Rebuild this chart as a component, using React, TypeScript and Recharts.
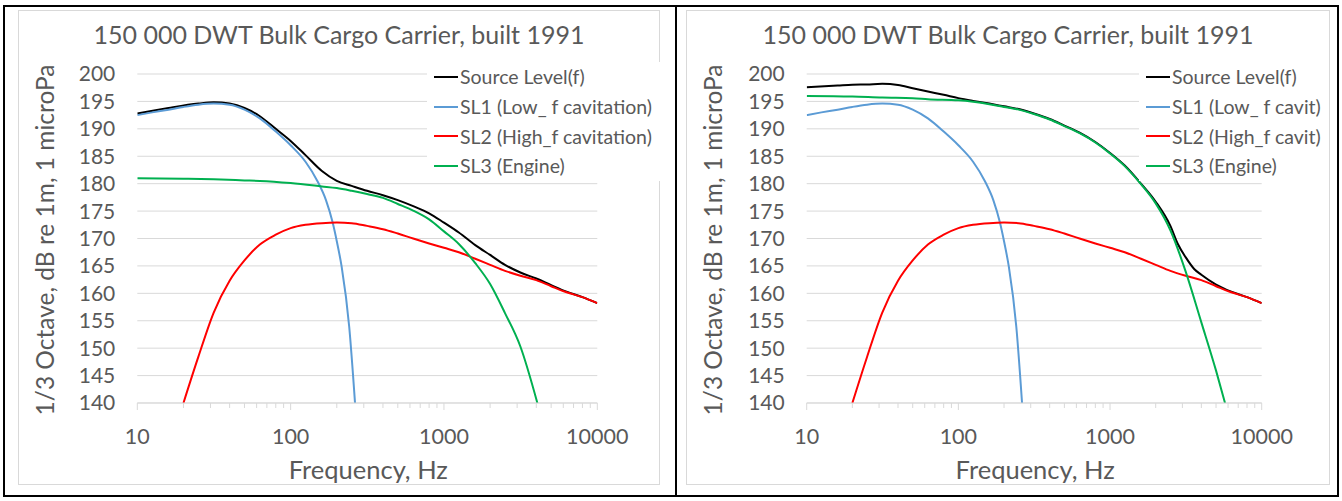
import { LineChart, Line, XAxis, YAxis, CartesianGrid, Legend } from "recharts";

// shared cavitation components (same on both charts)
const sl1Freq = [10, 12.5, 16, 20, 25, 31.5, 40, 50, 63, 80, 100, 125, 150, 170, 188, 200, 215, 241, 263];
const sl1Level = [192.5, 193.0, 193.5, 194.0, 194.4, 194.6, 194.4, 193.5, 191.9, 189.5, 187.0, 184.0, 180.4, 177.0, 172.9, 169.5, 164.9, 153.9, 140];

const sl2Freq = [20, 25, 31.5, 40, 50, 63, 80, 100, 125, 160, 200, 250, 315, 400, 500, 630, 800, 1000, 1250, 1600, 2000, 2500, 3150, 4000, 5000, 6300, 8000, 10000];
const sl2Level = [140, 148.4, 156.5, 162.3, 166.0, 168.9, 170.7, 171.9, 172.5, 172.8, 172.9, 172.8, 172.3, 171.7, 170.9, 170.0, 169.1, 168.3, 167.5, 166.3, 165.2, 164.1, 163.2, 162.4, 161.3, 160.2, 159.3, 158.2];

// left chart
const sourceFreqA = [10, 16, 25, 31.5, 40, 50, 63, 80, 100, 125, 160, 200, 250, 315, 400, 500, 630, 800, 1000, 1250, 1600, 2000, 2500, 3150, 4000, 5000, 6300, 8000, 10000];
const sourceLevelA = [192.8, 193.8, 194.6, 194.85, 194.6, 193.8, 192.3, 190.0, 187.8, 185.2, 182.3, 180.5, 179.6, 178.7, 177.9, 177.0, 175.9, 174.6, 172.9, 171.1, 168.8, 167.0, 165.2, 163.8, 162.7, 161.5, 160.3, 159.3, 158.2];
const sl3FreqA = [10, 20, 31.5, 50, 63, 100, 160, 200, 250, 315, 400, 500, 630, 800, 1000, 1250, 1600, 2000, 2500, 3150, 4066];
const sl3LevelA = [181.0, 180.9, 180.8, 180.6, 180.5, 180.1, 179.5, 179.2, 178.7, 178.1, 177.4, 176.3, 175.1, 173.5, 171.3, 169.0, 165.5, 161.7, 156.4, 150.3, 140];

// right chart
const sourceFreqB = [10, 16, 20, 25, 31.5, 40, 50, 63, 80, 100, 125, 160, 200, 250, 315, 400, 500, 630, 800, 1000, 1250, 1600, 2000, 2500, 2800, 3150, 3600, 4000, 5000, 6300, 8000, 10000];
const sourceLevelB = [197.6, 197.9, 198.05, 198.1, 198.2, 198.0, 197.4, 196.8, 196.2, 195.6, 195.1, 194.6, 194.1, 193.6, 192.8, 191.8, 190.6, 189.3, 187.6, 185.6, 183.3, 180.0, 176.7, 172.3, 169.0, 166.6, 164.4, 163.4, 161.6, 160.3, 159.3, 158.2];
const sl3FreqB = [10, 20, 31.5, 50, 63, 100, 160, 200, 250, 315, 400, 500, 630, 800, 1000, 1250, 1600, 2000, 2500, 3150, 4000, 5000, 5730];
const sl3LevelB = [196.0, 195.9, 195.7, 195.6, 195.4, 195.2, 194.5, 194.0, 193.5, 192.7, 191.7, 190.5, 189.2, 187.5, 185.5, 183.2, 179.9, 176.4, 171.5, 164.0, 154.7, 145.9, 140];

const legendA = ["Source Level(f)", "SL1 (Low_ f cavitation)", "SL2 (High_f cavitation)", "SL3 (Engine)"];
const legendB = ["Source Level(f)", "SL1 (Low_ f cavit)", "SL2 (High_f cavit)", "SL3 (Engine)"];

const majorTicks = [10, 100, 1000, 10000];
const minorTicks = [20, 30, 40, 50, 60, 70, 80, 90, 200, 300, 400, 500, 600, 700, 800, 900, 2000, 3000, 4000, 5000, 6000, 7000, 8000, 9000];
const levelTicks = [140, 145, 150, 155, 160, 165, 170, 175, 180, 185, 190, 195, 200];

const TITLE = "150 000 DWT Bulk Cargo Carrier, built 1991";
const FONT = "Lato, 'Open Sans', sans-serif";
const TEXT = "#595959";
const GRID = "#d9d9d9";
const COLORS = ["#000000", "#5b9bd5", "#ff0000", "#00b050"];

const toPoints = (f: number[], l: number[]) => f.map((freq, i) => ({ freq, level: l[i] }));

const FreqTick = (props: any) => {
  const { x, y, payload } = props;
  const major = majorTicks.includes(payload.value);
  return (
    <g>
      <line x1={x} x2={x} y1={y} y2={y + (major ? 7 : 5)} stroke={GRID} />
      {major && (
        <text x={x} y={y + 41} textAnchor="middle" fill={TEXT} fontSize={21.5} fontFamily={FONT}>
          {payload.value}
        </text>
      )}
    </g>
  );
};

type ChartProps = {
  left: number;
  width: number;
  plotLeft: number;
  plotRight: number;
  legendLeft: number;
  labels: string[];
  sourceF: number[];
  sourceL: number[];
  engineF: number[];
  engineL: number[];
};

const H = 475;
const PLOT_TOP = 64;
const PLOT_BOTTOM = 393;

const SourceChart = ({ left, width, plotLeft, plotRight, legendLeft, labels, sourceF, sourceL, engineF, engineL }: ChartProps) => {
  // excel-style legend, kept in series order
  const renderLegend = () => (
    <div style={{ background: "#fff", padding: "0 8px 0 7px", fontFamily: FONT, fontSize: 19.5, color: TEXT }}>
      {labels.map((lab, i) => (
        <div key={i} style={{ height: 29.7, display: "flex", alignItems: "center", whiteSpace: "nowrap" }}>
          <span style={{ display: "inline-block", width: 24, height: 2, background: COLORS[i], marginRight: 2 }} />
          {lab}
        </div>
      ))}
    </div>
  );

  return (
    <div style={{ position: "absolute", left, top: 10, width, height: H, border: `1px solid ${GRID}`, boxSizing: "border-box", background: "#fff" }}>
      <div style={{ position: "absolute", left: 0, width: "100%", top: 23, transform: "translateY(-50%)", textAlign: "center", fontFamily: FONT, fontSize: 25, color: TEXT, whiteSpace: "nowrap" }}>
        {TITLE}
      </div>
      <div style={{ position: "absolute", left: 25, top: (PLOT_TOP + PLOT_BOTTOM) / 2, transform: "translate(-50%, -50%) rotate(-90deg)", fontFamily: FONT, fontSize: 24.5, color: TEXT, whiteSpace: "nowrap" }}>
        1/3 Octave, dB re 1m, 1 microPa
      </div>
      <div style={{ position: "absolute", left: (plotLeft + plotRight) / 2, top: 458, transform: "translate(-50%, -50%)", fontFamily: FONT, fontSize: 25.5, color: TEXT, whiteSpace: "nowrap" }}>
        Frequency, Hz
      </div>
      <LineChart
        width={width - 2}
        height={H - 2}
        margin={{ top: PLOT_TOP - 1, right: width - 1 - plotRight, bottom: H - 1 - PLOT_BOTTOM - 40, left: 0 }}
        style={{ position: "absolute", left: 0, top: 0 }}
      >
        <CartesianGrid vertical={false} stroke={GRID} />
        <XAxis
          dataKey="freq"
          type="number"
          scale="log"
          domain={[10, 10000]}
          ticks={[...majorTicks, ...minorTicks]}
          interval={0}
          height={40}
          stroke={GRID}
          tickLine={false}
          tickSize={0}
          tickMargin={0}
          tick={<FreqTick />}
          allowDataOverflow
        />
        <YAxis
          type="number"
          domain={[140, 200]}
          ticks={levelTicks}
          interval={0}
          width={plotLeft - 1}
          axisLine={false}
          tickLine={false}
          tickSize={0}
          tickMargin={22}
          tick={{ fill: TEXT, fontSize: 21, fontFamily: FONT }}
          allowDataOverflow
        />
        <Legend
          content={renderLegend}
          layout="horizontal"
          verticalAlign="middle"
          align="center"
          wrapperStyle={{ left: legendLeft, top: 51, width: "auto" }}
        />
        <Line data={toPoints(sourceF, sourceL)} dataKey="level" name={labels[0]} type="monotone" stroke={COLORS[0]} strokeWidth={2} dot={false} activeDot={false} isAnimationActive={false} />
        <Line data={toPoints(sl1Freq, sl1Level)} dataKey="level" name={labels[1]} type="monotone" stroke={COLORS[1]} strokeWidth={2} dot={false} activeDot={false} isAnimationActive={false} />
        <Line data={toPoints(sl2Freq, sl2Level)} dataKey="level" name={labels[2]} type="monotone" stroke={COLORS[2]} strokeWidth={2} dot={false} activeDot={false} isAnimationActive={false} />
        <Line data={toPoints(engineF, engineL)} dataKey="level" name={labels[3]} type="monotone" stroke={COLORS[3]} strokeWidth={2} dot={false} activeDot={false} isAnimationActive={false} />
      </LineChart>
    </div>
  );
};

export default function App() {
  return (
    <div style={{ position: "absolute", left: 0, top: 0, width: 1342, height: 501, background: "#fff", overflow: "hidden" }}>
      {/* table borders */}
      <div style={{ position: "absolute", left: 3, top: 5, width: 1336, height: 492, border: "2px solid #000", boxSizing: "border-box" }} />
      <div style={{ position: "absolute", left: 675, top: 5, width: 2, height: 492, background: "#000" }} />

      <SourceChart
        left={18}
        width={642}
        plotLeft={119.3}
        plotRight={579.3}
        legendLeft={408}
        labels={legendA}
        sourceF={sourceFreqA}
        sourceL={sourceLevelA}
        engineF={sl3FreqA}
        engineL={sl3LevelA}
      />
      <SourceChart
        left={686}
        width={644}
        plotLeft={120.7}
        plotRight={575.7}
        legendLeft={452}
        labels={legendB}
        sourceF={sourceFreqB}
        sourceL={sourceLevelB}
        engineF={sl3FreqB}
        engineL={sl3LevelB}
      />
    </div>
  );
}
